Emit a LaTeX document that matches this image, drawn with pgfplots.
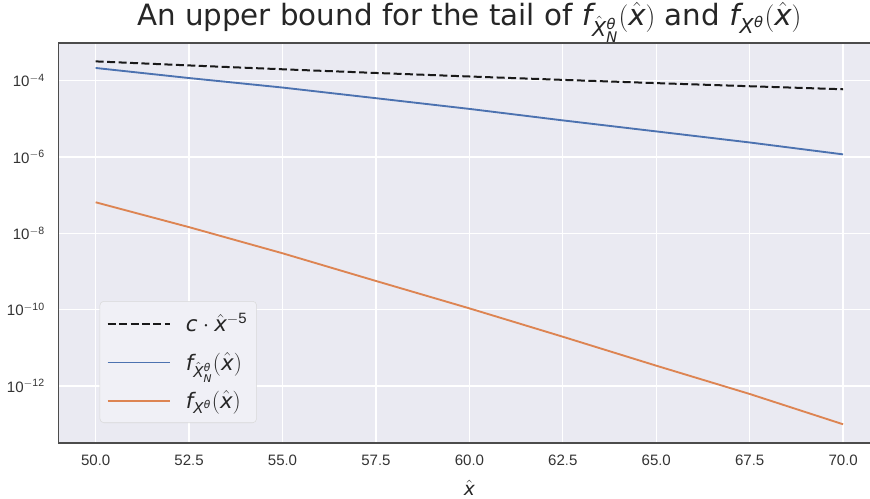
\documentclass[border=0pt]{standalone}
\usepackage{pgfplots}
\pgfplotsset{compat=1.18}
\usepackage{mathspec}
\setmainfont{Liberation Sans}
\newfontfamily\dejavu{DejaVu Sans}
\setmathsfont(Digits){Liberation Sans}
\setmathsfont(Latin,Greek){DejaVu Sans}
\usetikzlibrary{calc}

\definecolor{sbbg}{HTML}{EAEAF2}
\definecolor{sbblue}{HTML}{4C72B0}
\definecolor{sborange}{HTML}{DD8452}
\definecolor{ticktext}{HTML}{333333}

\begin{document}
\begin{tikzpicture}
\begin{axis}[
    name=ax, at={(0,0)}, anchor=south west,
    scale only axis, width=608.8pt, height=300pt,
    ymode=log,
    xmin=49, xmax=70.72,
    ymin=3.2e-14, ymax=9.7e-4,
    axis background/.style={fill=sbbg},
    axis y line*=left,
    axis line style={draw=black!70, line width=1pt},
    grid=major,
    major grid style={white, line width=1pt},
    minor grid style={draw=none},
    major tick length=0pt, minor tick length=0pt,
    tick style={draw=none},
    xtick={50,52.5,55,57.5,60,62.5,65,67.5,70},
    ytick={1e-12,1e-10,1e-8,1e-6,1e-4},
    xticklabel style={font=\fontsize{11.3}{13}\selectfont, text=ticktext, yshift=-5.5pt,
        /pgf/number format/.cd, fixed, fixed zerofill, precision=1},
    yticklabel style={font=\fontsize{11.3}{13}\selectfont, text=ticktext, xshift=-6.5pt},
    xlabel={$\hat{x}$},
    xlabel style={at={(0.5064,0)}, anchor=base, yshift=-39.5pt,
        font=\dejavu\fontsize{14}{16}\selectfont, text=black!85},
    title={An upper bound for the tail of $f_{\hat{X}^{\theta}_{N}}(\hat{x})$ and $f_{X^{\theta}}(\hat{x})$},
    title style={at={(0.5064,1)}, anchor=base, yshift=6.9pt,
        font=\dejavu\fontsize{22}{26}\selectfont, text=black!85},
    legend style={at={(0.051,0.05)}, anchor=south west, draw=black!15, fill=sbbg!70!white,
        rounded corners=3pt, font=\fontsize{16}{19}\selectfont, row sep=10pt,
        inner xsep=5pt, inner ysep=7pt, text=black!85,
        /tikz/every odd column/.append style={column sep=9pt}},
    legend cell align=left,
    legend image code/.code={\draw[#1] (0pt,0pt) -- (47pt,0pt);},
]
\addplot[black!90, line width=1.5pt, dash pattern=on 6pt off 2.6pt] coordinates {
    (50,3.2e-4) (52.5,2.507e-4) (55,1.987e-4) (57.5,1.591e-4) (60,1.286e-4)
    (62.5,1.049e-4) (65,8.62e-5) (67.5,7.14e-5) (70,5.95e-5)
};
\addlegendentry{$c\cdot\hat{x}^{-5}$}
\addplot[sbblue, line width=1.4pt] coordinates {
    (50,2.15e-4) (52.5,1.17e-4) (55,6.6e-5) (57.5,3.47e-5) (60,1.82e-5)
    (62.5,9.1e-6) (65,4.68e-6) (67.5,2.4e-6) (70,1.17e-6)
};
\addlegendentry{$f_{\hat{X}^{\theta}_{N}}(\hat{x})$}
\addplot[sborange, line width=1.4pt] coordinates {
    (50,6.5e-8) (52.5,1.45e-8) (55,3.0e-9) (57.5,5.64e-10) (60,1.08e-10)
    (62.5,1.95e-11) (65,3.4e-12) (67.5,6.17e-13) (70,9.9e-14)
};
\addlegendentry{$f_{X^{\theta}}(\hat{x})$}
\end{axis}
\pgfresetboundingbox
\path ($(ax.south west)+(-43.7pt,-41.8pt)$) rectangle ($(ax.north east)+(0pt,32.25pt)$);
\end{tikzpicture}
\end{document}
